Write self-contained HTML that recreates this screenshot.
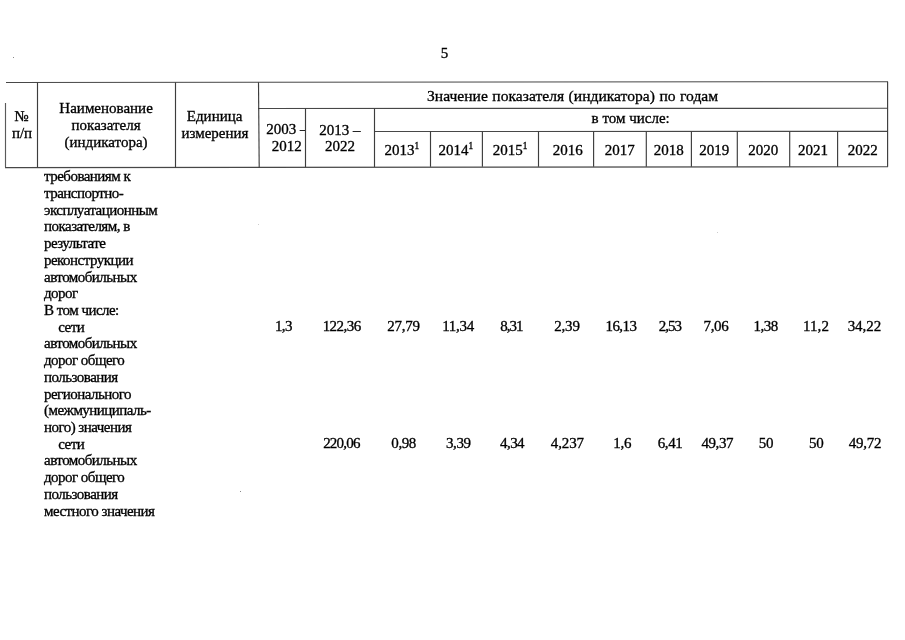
<!DOCTYPE html>
<html><head><meta charset="utf-8"><style>
html,body{margin:0;padding:0;background:#fff;}
body{width:905px;height:640px;position:relative;overflow:hidden;}
.l{position:absolute;}
.t{position:absolute;font-family:"Liberation Serif",serif;line-height:16.7px;color:#000;white-space:pre;-webkit-text-stroke:0.32px #000;}
.c{width:200px;text-align:center;}
sup{font-size:0.62em;line-height:0;vertical-align:0;position:relative;top:-0.62em;}
#wrap{position:absolute;left:0;top:0;width:905px;height:640px;will-change:transform;}
</style></head><body><div id="wrap">
<svg width="905" height="640" style="position:absolute;left:0;top:0"><line x1="6" y1="82.5" x2="888" y2="81.7" stroke="#474747" stroke-width="1.1"/><line x1="258" y1="108.5" x2="888" y2="108.3" stroke="#474747" stroke-width="1.1"/><line x1="374" y1="131.5" x2="888" y2="131.4" stroke="#474747" stroke-width="1.1"/><line x1="5" y1="167.6" x2="888" y2="166.75" stroke="#474747" stroke-width="1.1"/><line x1="5.5" y1="103" x2="5.5" y2="167.4" stroke="#5a5a5a" stroke-width="1.15"/><line x1="37.5" y1="82.5" x2="37.5" y2="167.4" stroke="#3d3d3d" stroke-width="1.15"/><line x1="175.5" y1="82.4" x2="175.5" y2="167.4" stroke="#3d3d3d" stroke-width="1.15"/><line x1="258.5" y1="82.3" x2="259.2" y2="167.4" stroke="#3d3d3d" stroke-width="1.15"/><line x1="887.6" y1="81.75" x2="887.6" y2="166.8" stroke="#3d3d3d" stroke-width="1.15"/><line x1="305.5" y1="108.5" x2="305.5" y2="167" stroke="#3d3d3d" stroke-width="1.15"/><line x1="374.5" y1="108.5" x2="374.5" y2="167" stroke="#3d3d3d" stroke-width="1.15"/><line x1="430.5" y1="131.4" x2="430.5" y2="166.8" stroke="#3d3d3d" stroke-width="1.15"/><line x1="482.4" y1="131.4" x2="482.4" y2="166.8" stroke="#3d3d3d" stroke-width="1.15"/><line x1="538.5" y1="131.4" x2="538.5" y2="166.8" stroke="#3d3d3d" stroke-width="1.15"/><line x1="593.6" y1="131.4" x2="593.6" y2="166.8" stroke="#3d3d3d" stroke-width="1.15"/><line x1="646.3" y1="131.4" x2="646.3" y2="166.8" stroke="#3d3d3d" stroke-width="1.15"/><line x1="691.4" y1="131.4" x2="691.4" y2="166.8" stroke="#3d3d3d" stroke-width="1.15"/><line x1="737.3" y1="131.4" x2="737.3" y2="166.8" stroke="#3d3d3d" stroke-width="1.15"/><line x1="789.7" y1="131.4" x2="789.7" y2="166.8" stroke="#3d3d3d" stroke-width="1.15"/><line x1="837.6" y1="131.4" x2="837.6" y2="166.8" stroke="#3d3d3d" stroke-width="1.15"/><rect x="13" y="57" width="1" height="1" fill="#888"/><rect x="258" y="224" width="1" height="1" fill="#ccc"/><rect x="717" y="232" width="1" height="1" fill="#ccc"/><rect x="240" y="491" width="1" height="1" fill="#888"/></svg>
<div class="t c" style="left:344.50px;top:45.49px;font-size:15.0px;">5</div>
<div class="t c" style="left:-78.50px;top:108.09px;font-size:15.0px;">№</div>
<div class="t c" style="left:-78.00px;top:124.59px;font-size:15.0px;">п/п</div>
<div class="t c" style="left:6.10px;top:100.49px;font-size:15.0px;">Наименование</div>
<div class="t c" style="left:6.10px;top:117.19px;font-size:15.0px;">показателя</div>
<div class="t c" style="left:6.10px;top:133.89px;font-size:15.0px;">(индикатора)</div>
<div class="t c" style="left:114.60px;top:108.09px;font-size:15.0px;">Единица</div>
<div class="t c" style="left:115.00px;top:124.59px;font-size:15.0px;">измерения</div>
<div style="position:absolute;left:259px;top:119.39px;width:46px;height:24px;overflow:hidden"><div class="t" style="left:7.30px;top:2px;font-size:15px">2003 –</div></div>
<div class="t c" style="left:186.85px;top:137.89px;font-size:15.0px;">2012</div>
<div class="t c" style="left:239.90px;top:121.59px;font-size:15.0px;">2013 –</div>
<div class="t c" style="left:240.00px;top:138.49px;font-size:15.0px;">2022</div>
<div class="t" style="left:427.00px;top:87.58px;font-size:15.6px;word-spacing:0.6px">Значение показателя (индикатора) по годам</div>
<div class="t c" style="left:530.70px;top:109.59px;font-size:15.0px;">в том числе:</div>
<div class="t c" style="left:301.75px;top:142.09px;font-size:15.0px;">2013<sup>1</sup></div>
<div class="t c" style="left:355.80px;top:142.09px;font-size:15.0px;">2014<sup>1</sup></div>
<div class="t c" style="left:410.00px;top:142.09px;font-size:15.0px;">2015<sup>1</sup></div>
<div class="t c" style="left:467.80px;top:142.09px;font-size:15.0px;">2016</div>
<div class="t c" style="left:519.80px;top:142.09px;font-size:15.0px;">2017</div>
<div class="t c" style="left:568.80px;top:142.09px;font-size:15.0px;">2018</div>
<div class="t c" style="left:614.20px;top:142.09px;font-size:15.0px;">2019</div>
<div class="t c" style="left:663.30px;top:142.09px;font-size:15.0px;">2020</div>
<div class="t c" style="left:713.00px;top:142.09px;font-size:15.0px;">2021</div>
<div class="t c" style="left:762.70px;top:142.09px;font-size:15.0px;">2022</div>
<div class="t" style="left:44.00px;top:168.19px;font-size:15.0px;letter-spacing:-0.53px">требованиям к</div>
<div class="t" style="left:44.00px;top:184.91px;font-size:15.0px;letter-spacing:-0.53px">транспортно-</div>
<div class="t" style="left:44.00px;top:201.63px;font-size:15.0px;letter-spacing:-0.53px">эксплуатационным</div>
<div class="t" style="left:44.00px;top:218.35px;font-size:15.0px;letter-spacing:-0.53px">показателям, в</div>
<div class="t" style="left:44.00px;top:235.07px;font-size:15.0px;letter-spacing:-0.53px">результате</div>
<div class="t" style="left:44.00px;top:251.79px;font-size:15.0px;letter-spacing:-0.53px">реконструкции</div>
<div class="t" style="left:44.00px;top:268.51px;font-size:15.0px;letter-spacing:-0.53px">автомобильных</div>
<div class="t" style="left:44.00px;top:285.23px;font-size:15.0px;letter-spacing:-0.53px">дорог</div>
<div class="t" style="left:44.00px;top:301.95px;font-size:15.0px;letter-spacing:-0.53px">В том числе:</div>
<div class="t" style="left:58.30px;top:318.67px;font-size:15.0px;letter-spacing:-0.53px">сети</div>
<div class="t" style="left:44.00px;top:335.39px;font-size:15.0px;letter-spacing:-0.53px">автомобильных</div>
<div class="t" style="left:44.00px;top:352.11px;font-size:15.0px;letter-spacing:-0.53px">дорог общего</div>
<div class="t" style="left:44.00px;top:368.83px;font-size:15.0px;letter-spacing:-0.53px">пользования</div>
<div class="t" style="left:44.00px;top:385.55px;font-size:15.0px;letter-spacing:-0.53px">регионального</div>
<div class="t" style="left:44.00px;top:402.27px;font-size:15.0px;letter-spacing:-0.53px">(межмуниципаль-</div>
<div class="t" style="left:44.00px;top:418.99px;font-size:15.0px;letter-spacing:-0.53px">ного) значения</div>
<div class="t" style="left:58.30px;top:435.71px;font-size:15.0px;letter-spacing:-0.53px">сети</div>
<div class="t" style="left:44.00px;top:452.43px;font-size:15.0px;letter-spacing:-0.53px">автомобильных</div>
<div class="t" style="left:44.00px;top:469.15px;font-size:15.0px;letter-spacing:-0.53px">дорог общего</div>
<div class="t" style="left:44.00px;top:485.87px;font-size:15.0px;letter-spacing:-0.53px">пользования</div>
<div class="t" style="left:44.00px;top:502.59px;font-size:15.0px;letter-spacing:-0.53px">местного значения</div>
<div class="t c" style="left:183.49px;top:318.49px;font-size:15.0px;letter-spacing:-0.53px">1,3</div>
<div class="t c" style="left:241.69px;top:318.49px;font-size:15.0px;letter-spacing:-0.53px">122,36</div>
<div class="t c" style="left:303.43px;top:318.49px;font-size:15.0px;letter-spacing:-0.25px">27,79</div>
<div class="t c" style="left:358.00px;top:318.49px;font-size:15.0px;letter-spacing:-0.3px">11,34</div>
<div class="t c" style="left:411.45px;top:318.49px;font-size:15.0px;letter-spacing:-1.0px">8,31</div>
<div class="t c" style="left:467.00px;top:318.49px;font-size:15.0px;letter-spacing:-0.2px">2,39</div>
<div class="t c" style="left:520.99px;top:318.49px;font-size:15.0px;letter-spacing:-0.53px">16,13</div>
<div class="t c" style="left:569.88px;top:318.49px;font-size:15.0px;letter-spacing:-0.95px">2,53</div>
<div class="t c" style="left:616.00px;top:318.49px;font-size:15.0px;letter-spacing:-0.3px">7,06</div>
<div class="t c" style="left:665.62px;top:318.49px;font-size:15.0px;letter-spacing:-0.45px">1,38</div>
<div class="t c" style="left:716.02px;top:318.49px;font-size:15.0px;letter-spacing:0.05px">11,2</div>
<div class="t c" style="left:764.42px;top:318.49px;font-size:15.0px;letter-spacing:-0.06px">34,22</div>
<div class="t c" style="left:241.40px;top:435.09px;font-size:15.0px;letter-spacing:-0.8px">220,06</div>
<div class="t c" style="left:303.57px;top:435.09px;font-size:15.0px;letter-spacing:-0.45px">0,98</div>
<div class="t c" style="left:358.27px;top:435.09px;font-size:15.0px;letter-spacing:-0.45px">3,39</div>
<div class="t c" style="left:412.03px;top:435.09px;font-size:15.0px;letter-spacing:-0.53px">4,34</div>
<div class="t c" style="left:467.38px;top:435.09px;font-size:15.0px;letter-spacing:-0.15px">4,237</div>
<div class="t c" style="left:522.25px;top:435.09px;font-size:15.0px;letter-spacing:-0.3px">1,6</div>
<div class="t c" style="left:570.05px;top:435.09px;font-size:15.0px;letter-spacing:-0.4px">6,41</div>
<div class="t c" style="left:617.30px;top:435.09px;font-size:15.0px;letter-spacing:-0.4px">49,37</div>
<div class="t c" style="left:666.00px;top:435.09px;font-size:15.0px;letter-spacing:-0.3px">50</div>
<div class="t c" style="left:716.15px;top:435.09px;font-size:15.0px;letter-spacing:-0.3px">50</div>
<div class="t c" style="left:765.08px;top:435.09px;font-size:15.0px;letter-spacing:-0.25px">49,72</div>
</div></body></html>
